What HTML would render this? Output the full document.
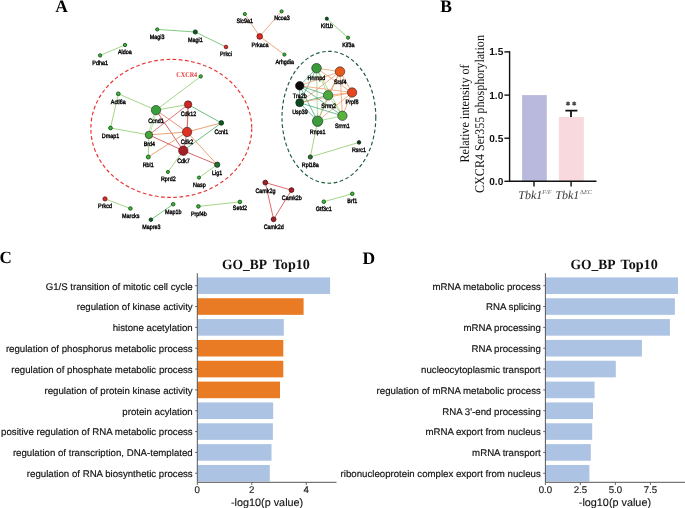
<!DOCTYPE html>
<html><head><meta charset="utf-8"><style>
html,body{margin:0;padding:0;background:#fff;width:685px;height:508px;overflow:hidden}
svg{display:block;will-change:transform}
text{text-rendering:geometricPrecision}
</style></head><body>
<svg width="685" height="508" viewBox="0 0 685 508">
<rect width="685" height="508" fill="#fff"/>
<g font-family="Liberation Serif" font-weight="bold" font-size="17.5" fill="#000">
<text x="55.3" y="11.8">A</text>
<text x="440.2" y="11.7">B</text>
<text x="-0.4" y="263.4" font-size="17">C</text>
<text x="362.4" y="263.7">D</text>
</g>
<ellipse cx="171.3" cy="128.4" rx="80.45" ry="69" fill="none" stroke="#e8302e" stroke-width="1.15" stroke-dasharray="3.7 2.5"/>
<ellipse cx="328.9" cy="117.25" rx="46.9" ry="65.95" fill="none" stroke="#1e5a3a" stroke-width="1.15" stroke-dasharray="3.7 2.5"/>
<line x1="100.1" y1="55.4" x2="125" y2="45" stroke="#92cf72" stroke-width="0.85"/>
<line x1="157.2" y1="29.4" x2="195.3" y2="32" stroke="#6cbf6c" stroke-width="0.85"/>
<line x1="195.3" y1="32" x2="226" y2="47" stroke="#6cbf6c" stroke-width="0.85"/>
<line x1="244.8" y1="14" x2="259.7" y2="36.4" stroke="#e99a70" stroke-width="0.85"/>
<line x1="281.6" y1="11.4" x2="259.7" y2="36.4" stroke="#e99a70" stroke-width="0.85"/>
<line x1="259.7" y1="36.4" x2="284.4" y2="54.6" stroke="#e99a70" stroke-width="0.85"/>
<line x1="326.8" y1="18.7" x2="348.1" y2="37.7" stroke="#7cc86c" stroke-width="0.85"/>
<line x1="200.7" y1="76.4" x2="156" y2="110.1" stroke="#92cf72" stroke-width="0.85"/>
<line x1="118.3" y1="93.8" x2="156" y2="110.1" stroke="#92cf72" stroke-width="0.85"/>
<line x1="118.3" y1="93.8" x2="110.5" y2="128" stroke="#92cf72" stroke-width="0.85"/>
<line x1="110.5" y1="128" x2="148.9" y2="134.9" stroke="#92cf72" stroke-width="0.85"/>
<line x1="156" y1="110.1" x2="188.1" y2="104.5" stroke="#92cf72" stroke-width="0.85"/>
<line x1="155.28" y1="109.89" x2="148.18" y2="134.69" stroke="#92cf72" stroke-width="0.6"/>
<line x1="156.72" y1="110.31" x2="149.62" y2="135.11" stroke="#92cf72" stroke-width="0.6"/>
<line x1="156" y1="110.1" x2="187.1" y2="132" stroke="#e8806a" stroke-width="0.85"/>
<line x1="156" y1="110.1" x2="183.3" y2="150.7" stroke="#cc4a4a" stroke-width="0.85"/>
<line x1="188.1" y1="104.5" x2="221.3" y2="122.9" stroke="#50b070" stroke-width="0.85"/>
<line x1="188.1" y1="104.5" x2="187.1" y2="132" stroke="#dc6a5e" stroke-width="1.15"/>
<line x1="188.1" y1="104.5" x2="148.9" y2="134.9" stroke="#d86060" stroke-width="0.85"/>
<line x1="187.1" y1="132" x2="221.3" y2="122.9" stroke="#e99259" stroke-width="0.85"/>
<line x1="187.1" y1="132" x2="148.9" y2="134.9" stroke="#e99259" stroke-width="0.85"/>
<line x1="187.1" y1="132" x2="217.2" y2="164.7" stroke="#e99259" stroke-width="0.85"/>
<line x1="187.1" y1="132" x2="183.3" y2="150.7" stroke="#d05050" stroke-width="0.85"/>
<line x1="187.1" y1="132" x2="148.3" y2="157" stroke="#e99259" stroke-width="0.85"/>
<line x1="183.3" y1="150.7" x2="221.3" y2="122.9" stroke="#50b070" stroke-width="0.85"/>
<line x1="183.3" y1="150.7" x2="148.9" y2="134.9" stroke="#cc4a4a" stroke-width="0.85"/>
<line x1="183.3" y1="150.7" x2="217.2" y2="164.7" stroke="#cc4a4a" stroke-width="0.85"/>
<line x1="183.3" y1="150.7" x2="167.9" y2="171.9" stroke="#92cf72" stroke-width="0.85"/>
<line x1="217.2" y1="164.7" x2="199" y2="177.6" stroke="#92cf72" stroke-width="0.85"/>
<line x1="148.9" y1="134.9" x2="148.3" y2="157" stroke="#92cf72" stroke-width="0.85"/>
<line x1="105" y1="198.9" x2="130.4" y2="208.5" stroke="#92cf72" stroke-width="0.85"/>
<line x1="173.2" y1="204.2" x2="150.9" y2="219.7" stroke="#5cb85c" stroke-width="0.85"/>
<line x1="198.4" y1="206.4" x2="239.9" y2="201.9" stroke="#92cf72" stroke-width="0.85"/>
<line x1="265.3" y1="182.6" x2="291.5" y2="190.1" stroke="#d85050" stroke-width="0.85"/>
<line x1="265.3" y1="182.6" x2="273.6" y2="219.3" stroke="#d85050" stroke-width="0.85"/>
<line x1="291.5" y1="190.1" x2="273.6" y2="219.3" stroke="#d85050" stroke-width="0.85"/>
<line x1="323.8" y1="201.7" x2="352.3" y2="193.8" stroke="#92cf72" stroke-width="0.85"/>
<line x1="317.6" y1="121.2" x2="310.3" y2="157" stroke="#92cf72" stroke-width="0.85"/>
<line x1="310.3" y1="157" x2="359" y2="142.4" stroke="#92cf72" stroke-width="0.85"/>
<line x1="316.5" y1="68.2" x2="340" y2="71.6" stroke="#e99259" stroke-width="0.7"/>
<line x1="316.5" y1="68.2" x2="299.7" y2="85.8" stroke="#3aa070" stroke-width="0.7"/>
<line x1="316.5" y1="68.2" x2="328.1" y2="95.3" stroke="#92cf72" stroke-width="0.7"/>
<line x1="316.5" y1="68.2" x2="352.1" y2="92.5" stroke="#e99259" stroke-width="0.7"/>
<line x1="316.5" y1="68.2" x2="299.7" y2="102.7" stroke="#3aa070" stroke-width="0.7"/>
<line x1="316.5" y1="68.2" x2="342.4" y2="115.8" stroke="#92cf72" stroke-width="0.7"/>
<line x1="316.5" y1="68.2" x2="317.6" y2="121.2" stroke="#92cf72" stroke-width="0.7"/>
<line x1="340" y1="71.6" x2="299.7" y2="85.8" stroke="#e99259" stroke-width="0.7"/>
<line x1="340" y1="71.6" x2="328.1" y2="95.3" stroke="#e99259" stroke-width="0.7"/>
<line x1="340" y1="71.6" x2="352.1" y2="92.5" stroke="#e99259" stroke-width="0.7"/>
<line x1="340" y1="71.6" x2="299.7" y2="102.7" stroke="#e99259" stroke-width="0.7"/>
<line x1="340" y1="71.6" x2="342.4" y2="115.8" stroke="#e99259" stroke-width="0.7"/>
<line x1="340" y1="71.6" x2="317.6" y2="121.2" stroke="#e99259" stroke-width="0.7"/>
<line x1="299.7" y1="85.8" x2="328.1" y2="95.3" stroke="#3aa070" stroke-width="0.7"/>
<line x1="299.7" y1="85.8" x2="352.1" y2="92.5" stroke="#e99259" stroke-width="0.7"/>
<line x1="299.7" y1="85.8" x2="299.7" y2="102.7" stroke="#3aa070" stroke-width="0.7"/>
<line x1="299.7" y1="85.8" x2="342.4" y2="115.8" stroke="#3aa070" stroke-width="0.7"/>
<line x1="299.7" y1="85.8" x2="317.6" y2="121.2" stroke="#3aa070" stroke-width="0.7"/>
<line x1="328.1" y1="95.3" x2="352.1" y2="92.5" stroke="#e99259" stroke-width="0.7"/>
<line x1="328.1" y1="95.3" x2="299.7" y2="102.7" stroke="#3aa070" stroke-width="0.7"/>
<line x1="328.1" y1="95.3" x2="342.4" y2="115.8" stroke="#92cf72" stroke-width="0.7"/>
<line x1="328.1" y1="95.3" x2="317.6" y2="121.2" stroke="#92cf72" stroke-width="0.7"/>
<line x1="352.1" y1="92.5" x2="299.7" y2="102.7" stroke="#e99259" stroke-width="0.7"/>
<line x1="352.1" y1="92.5" x2="342.4" y2="115.8" stroke="#e99259" stroke-width="0.7"/>
<line x1="352.1" y1="92.5" x2="317.6" y2="121.2" stroke="#e99259" stroke-width="0.7"/>
<line x1="299.7" y1="102.7" x2="342.4" y2="115.8" stroke="#3aa070" stroke-width="0.7"/>
<line x1="299.7" y1="102.7" x2="317.6" y2="121.2" stroke="#3aa070" stroke-width="0.7"/>
<line x1="342.4" y1="115.8" x2="317.6" y2="121.2" stroke="#92cf72" stroke-width="0.7"/>
<circle cx="100.1" cy="55.4" r="1.70" fill="#3cb43c" stroke="#0a4a0a" stroke-width="0.8"/>
<circle cx="125" cy="45" r="1.70" fill="#3cb43c" stroke="#0a4a0a" stroke-width="0.8"/>
<circle cx="157.2" cy="29.4" r="1.60" fill="#3cb43c" stroke="#0a4a0a" stroke-width="0.8"/>
<circle cx="195.3" cy="32" r="2.10" fill="#0b5a22" stroke="#022a0c" stroke-width="0.8"/>
<circle cx="226" cy="47" r="1.80" fill="#de2c24" stroke="#6a1010" stroke-width="0.8"/>
<circle cx="244.8" cy="14" r="1.60" fill="#3cb43c" stroke="#0a4a0a" stroke-width="0.8"/>
<circle cx="281.6" cy="11.4" r="1.60" fill="#3cb43c" stroke="#0a4a0a" stroke-width="0.8"/>
<circle cx="259.7" cy="36.4" r="2.80" fill="#de2c24" stroke="#6a1010" stroke-width="0.8"/>
<circle cx="284.4" cy="54.6" r="1.60" fill="#3cb43c" stroke="#0a4a0a" stroke-width="0.8"/>
<circle cx="326.8" cy="18.7" r="1.60" fill="#0b5a22" stroke="#022a0c" stroke-width="0.8"/>
<circle cx="348.1" cy="37.7" r="1.60" fill="#3cb43c" stroke="#0a4a0a" stroke-width="0.8"/>
<circle cx="200.7" cy="76.4" r="1.70" fill="#3cb43c" stroke="#0a4a0a" stroke-width="0.8"/>
<circle cx="118.3" cy="93.8" r="1.90" fill="#3cb43c" stroke="#0a4a0a" stroke-width="0.8"/>
<circle cx="156" cy="110.1" r="4.70" fill="#38a038" stroke="#222" stroke-width="0.6"/>
<circle cx="188.1" cy="104.5" r="3.70" fill="#d42424" stroke="#222" stroke-width="0.6"/>
<circle cx="221.3" cy="122.9" r="2.30" fill="#0b5a22" stroke="#022a0c" stroke-width="0.8"/>
<circle cx="110.5" cy="128" r="1.90" fill="#3cb43c" stroke="#0a4a0a" stroke-width="0.8"/>
<circle cx="148.9" cy="134.9" r="3.70" fill="#45a63a" stroke="#222" stroke-width="0.6"/>
<circle cx="187.1" cy="132" r="4.70" fill="#e03222" stroke="#222" stroke-width="0.6"/>
<circle cx="183.3" cy="150.7" r="4.70" fill="#a41e26" stroke="#4a080c" stroke-width="0.6"/>
<circle cx="148.3" cy="157" r="2.00" fill="#3cb43c" stroke="#0a4a0a" stroke-width="0.8"/>
<circle cx="217.2" cy="164.7" r="2.60" fill="#1a7a2a" stroke="#222" stroke-width="0.8"/>
<circle cx="167.9" cy="171.9" r="1.60" fill="#3cb43c" stroke="#0a4a0a" stroke-width="0.8"/>
<circle cx="199" cy="177.6" r="1.60" fill="#3cb43c" stroke="#0a4a0a" stroke-width="0.8"/>
<circle cx="105" cy="198.9" r="2.10" fill="#de2c24" stroke="#6a1010" stroke-width="0.8"/>
<circle cx="130.4" cy="208.5" r="1.80" fill="#3cb43c" stroke="#0a4a0a" stroke-width="0.8"/>
<circle cx="173.2" cy="204.2" r="1.80" fill="#3cb43c" stroke="#0a4a0a" stroke-width="0.8"/>
<circle cx="150.9" cy="219.7" r="1.80" fill="#0b5a22" stroke="#022a0c" stroke-width="0.8"/>
<circle cx="198.4" cy="206.4" r="1.80" fill="#3cb43c" stroke="#0a4a0a" stroke-width="0.8"/>
<circle cx="239.9" cy="201.9" r="1.80" fill="#3cb43c" stroke="#0a4a0a" stroke-width="0.8"/>
<circle cx="265.3" cy="182.6" r="2.40" fill="#a41e26" stroke="#4a080c" stroke-width="0.8"/>
<circle cx="291.5" cy="190.1" r="2.40" fill="#a41e26" stroke="#4a080c" stroke-width="0.8"/>
<circle cx="273.6" cy="219.3" r="2.40" fill="#a41e26" stroke="#4a080c" stroke-width="0.8"/>
<circle cx="323.8" cy="201.7" r="1.80" fill="#3cb43c" stroke="#0a4a0a" stroke-width="0.8"/>
<circle cx="352.3" cy="193.8" r="1.80" fill="#3cb43c" stroke="#0a4a0a" stroke-width="0.8"/>
<circle cx="316.5" cy="68.2" r="4.80" fill="#37993a" stroke="#222" stroke-width="0.6"/>
<circle cx="340" cy="71.6" r="4.80" fill="#e85a1c" stroke="#222" stroke-width="0.6"/>
<circle cx="299.7" cy="85.8" r="4.20" fill="#0a0a0a" stroke="#000" stroke-width="0.6"/>
<circle cx="328.1" cy="95.3" r="4.70" fill="#4aaa3c" stroke="#222" stroke-width="0.6"/>
<circle cx="352.1" cy="92.5" r="4.70" fill="#e64620" stroke="#222" stroke-width="0.6"/>
<circle cx="299.7" cy="102.7" r="4.00" fill="#0c4a1e" stroke="#222" stroke-width="0.6"/>
<circle cx="342.4" cy="115.8" r="4.70" fill="#58b43c" stroke="#222" stroke-width="0.6"/>
<circle cx="317.6" cy="121.2" r="5.20" fill="#3a9c3a" stroke="#222" stroke-width="0.6"/>
<circle cx="359" cy="142.4" r="1.80" fill="#0a3a18" stroke="#222" stroke-width="0.8"/>
<circle cx="310.3" cy="157" r="2.10" fill="#1a7a2a" stroke="#222" stroke-width="0.8"/>
<g font-family="Liberation Sans" font-size="5.4" fill="#000" text-anchor="middle" stroke="#000" stroke-width="0.32">
<text transform="translate(100.1,64.55) scale(1,1.18)">Pdha1</text>
<text transform="translate(124.8,54.15) scale(1,1.18)">Aldoa</text>
<text transform="translate(157.2,38.75) scale(1,1.18)">Magi3</text>
<text transform="translate(195.4,42.25) scale(1,1.18)">Magi1</text>
<text transform="translate(226,56.25) scale(1,1.18)">Prkci</text>
<text transform="translate(244.8,23.35) scale(1,1.18)">Slc9a1</text>
<text transform="translate(282,20.35) scale(1,1.18)">Ncoa3</text>
<text transform="translate(260,46.65) scale(1,1.18)">Prkaca</text>
<text transform="translate(284.7,63.75) scale(1,1.18)">Arhgdia</text>
<text transform="translate(326.8,27.85) scale(1,1.18)">Kif1b</text>
<text transform="translate(348.3,46.65) scale(1,1.18)">Kif3a</text>
<text transform="translate(118.3,103.65) scale(1,1.18)">Actl6a</text>
<text transform="translate(156,122.85) scale(1,1.18)">Ccnd1</text>
<text transform="translate(188.5,115.65) scale(1,1.18)">Cdk12</text>
<text transform="translate(221.3,133.65) scale(1,1.18)">Ccnl1</text>
<text transform="translate(110.5,137.65) scale(1,1.18)">Dmap1</text>
<text transform="translate(149.4,146.45) scale(1,1.18)">Brd4</text>
<text transform="translate(187,144.35) scale(1,1.18)">Cdk2</text>
<text transform="translate(183.5,163.05) scale(1,1.18)">Cdk7</text>
<text transform="translate(148.2,166.75) scale(1,1.18)">Rbl1</text>
<text transform="translate(217.1,175.15) scale(1,1.18)">Lig1</text>
<text transform="translate(168.3,181.45) scale(1,1.18)">Rprd2</text>
<text transform="translate(199.4,186.95) scale(1,1.18)">Nasp</text>
<text transform="translate(105,208.25) scale(1,1.18)">Prkcd</text>
<text transform="translate(130.8,217.95) scale(1,1.18)">Marcks</text>
<text transform="translate(173.2,213.65) scale(1,1.18)">Map1b</text>
<text transform="translate(151.3,228.85) scale(1,1.18)">Mapre3</text>
<text transform="translate(198.9,215.75) scale(1,1.18)">Prpf4b</text>
<text transform="translate(239.9,210.45) scale(1,1.18)">Setd2</text>
<text transform="translate(265.5,192.65) scale(1,1.18)">Camk2g</text>
<text transform="translate(291.8,199.75) scale(1,1.18)">Camk2b</text>
<text transform="translate(273.7,228.85) scale(1,1.18)">Camk2d</text>
<text transform="translate(323.8,210.65) scale(1,1.18)">Gtf3c1</text>
<text transform="translate(352.3,202.75) scale(1,1.18)">Brf1</text>
<text transform="translate(316.4,79.95) scale(1,1.18)">Hnrnpd</text>
<text transform="translate(340.2,83.95) scale(1,1.18)">Srsf4</text>
<text transform="translate(299.8,97.85) scale(1,1.18)">Tra2b</text>
<text transform="translate(328.7,107.65) scale(1,1.18)">Srrm2</text>
<text transform="translate(352,104.45) scale(1,1.18)">Prpf8</text>
<text transform="translate(300,114.45) scale(1,1.18)">Usp39</text>
<text transform="translate(342.3,128.25) scale(1,1.18)">Srrm1</text>
<text transform="translate(317.6,134.35) scale(1,1.18)">Rnps1</text>
<text transform="translate(359,151.75) scale(1,1.18)">Rsrc1</text>
<text transform="translate(310.3,167.15) scale(1,1.18)">Rpl18a</text>
</g>
<text transform="translate(197.2,77) scale(1,1.18)" font-family="Liberation Serif" font-weight="bold" font-size="6.2" fill="#e23c3c" text-anchor="end">CXCR4</text>
<g font-family="Liberation Serif" font-size="12.1" fill="#111">
<text transform="translate(468.8,113.5) rotate(-90) scale(1,1.1)" text-anchor="middle">Relative intensity of</text>
<text transform="translate(484.2,114) rotate(-90) scale(1,1.1)" text-anchor="middle">CXCR4 Ser355 phosphorylation</text>
</g>
<rect x="522.1" y="95.1" width="24.7" height="86.2" fill="#b9b9dd"/>
<rect x="558.9" y="117" width="24.9" height="64.3" fill="#f8d9dd"/>
<g stroke="#111" stroke-width="1.4" fill="none">
<path d="M509.6 51.2 V182 M509 181.3 H596.5"/>
<path d="M504.4 51.9 H510"/>
<path d="M504.4 95.1 H510"/>
<path d="M504.4 138.2 H510"/>
<path d="M504.4 181.3 H510"/>
<path d="M534 181.3 V186.5 M571.1 181.3 V186.5"/>
<path d="M571 117 V110.7 M565.4 110.7 H577.4" stroke-width="1.8"/>
</g>
<g font-family="Liberation Sans" font-weight="bold" font-size="10.1" fill="#111" text-anchor="end">
<text x="503.3" y="55.35">1.5</text>
<text x="503.3" y="98.55">1.0</text>
<text x="503.3" y="141.65">0.5</text>
<text x="503.3" y="184.75">0.0</text>
</g>
<path d="M568.0 101.55 V105.85000000000001 M566.13 102.62 L569.87 104.78 M566.13 104.78 L569.87 102.62" stroke="#4a4a4a" stroke-width="1.2" fill="none"/>
<path d="M574.2 101.55 V105.85000000000001 M572.33 102.62 L576.07 104.78 M572.33 104.78 L576.07 102.62" stroke="#4a4a4a" stroke-width="1.2" fill="none"/>
<g font-family="Liberation Serif" font-style="italic" fill="#383838">
<text x="518.3" y="199" font-size="12">Tbk1<tspan font-size="6.2" dy="-5.5" fill="#5a5a5a">F/F</tspan></text>
<text x="555.3" y="199" font-size="12">Tbk1<tspan font-size="6.2" dy="-5.5" dx="0.6" font-style="normal" fill="#5a5a5a">Δ</tspan><tspan font-size="6.2" fill="#5a5a5a">EC</tspan></text>
</g>
<rect x="197.3" y="277.40" width="132.80" height="16.6" fill="#adc3e3"/>
<path d="M195.10000000000002 285.70 H197.3" stroke="#444" stroke-width="0.8"/>
<text x="192.70000000000002" y="289.60" font-family="Liberation Sans" font-size="9.67" fill="#111" stroke="#111" stroke-width="0.16" text-anchor="end">G1/S transition of mitotic cell cycle</text>
<rect x="197.3" y="298.24" width="106.30" height="16.6" fill="#e87b23"/>
<path d="M195.10000000000002 306.54 H197.3" stroke="#444" stroke-width="0.8"/>
<text x="192.70000000000002" y="310.44" font-family="Liberation Sans" font-size="9.67" fill="#111" stroke="#111" stroke-width="0.16" text-anchor="end">regulation of kinase activity</text>
<rect x="197.3" y="319.08" width="86.50" height="16.6" fill="#adc3e3"/>
<path d="M195.10000000000002 327.38 H197.3" stroke="#444" stroke-width="0.8"/>
<text x="192.70000000000002" y="331.28" font-family="Liberation Sans" font-size="9.67" fill="#111" stroke="#111" stroke-width="0.16" text-anchor="end">histone acetylation</text>
<rect x="197.3" y="339.92" width="86.00" height="16.6" fill="#e87b23"/>
<path d="M195.10000000000002 348.22 H197.3" stroke="#444" stroke-width="0.8"/>
<text x="192.70000000000002" y="352.12" font-family="Liberation Sans" font-size="9.67" fill="#111" stroke="#111" stroke-width="0.16" text-anchor="end">regulation of phosphorus metabolic process</text>
<rect x="197.3" y="360.76" width="86.00" height="16.6" fill="#e87b23"/>
<path d="M195.10000000000002 369.06 H197.3" stroke="#444" stroke-width="0.8"/>
<text x="192.70000000000002" y="372.96" font-family="Liberation Sans" font-size="9.67" fill="#111" stroke="#111" stroke-width="0.16" text-anchor="end">regulation of phosphate metabolic process</text>
<rect x="197.3" y="381.60" width="82.70" height="16.6" fill="#e87b23"/>
<path d="M195.10000000000002 389.90 H197.3" stroke="#444" stroke-width="0.8"/>
<text x="192.70000000000002" y="393.80" font-family="Liberation Sans" font-size="9.67" fill="#111" stroke="#111" stroke-width="0.16" text-anchor="end">regulation of protein kinase activity</text>
<rect x="197.3" y="402.44" width="75.90" height="16.6" fill="#adc3e3"/>
<path d="M195.10000000000002 410.74 H197.3" stroke="#444" stroke-width="0.8"/>
<text x="192.70000000000002" y="414.64" font-family="Liberation Sans" font-size="9.67" fill="#111" stroke="#111" stroke-width="0.16" text-anchor="end">protein acylation</text>
<rect x="197.3" y="423.28" width="75.60" height="16.6" fill="#adc3e3"/>
<path d="M195.10000000000002 431.58 H197.3" stroke="#444" stroke-width="0.8"/>
<text x="192.70000000000002" y="435.48" font-family="Liberation Sans" font-size="9.67" fill="#111" stroke="#111" stroke-width="0.16" text-anchor="end">positive regulation of RNA metabolic process</text>
<rect x="197.3" y="444.12" width="74.20" height="16.6" fill="#adc3e3"/>
<path d="M195.10000000000002 452.42 H197.3" stroke="#444" stroke-width="0.8"/>
<text x="192.70000000000002" y="456.32" font-family="Liberation Sans" font-size="9.67" fill="#111" stroke="#111" stroke-width="0.16" text-anchor="end">regulation of transcription, DNA-templated</text>
<rect x="197.3" y="464.96" width="72.50" height="16.6" fill="#adc3e3"/>
<path d="M195.10000000000002 473.26 H197.3" stroke="#444" stroke-width="0.8"/>
<text x="192.70000000000002" y="477.16" font-family="Liberation Sans" font-size="9.67" fill="#111" stroke="#111" stroke-width="0.16" text-anchor="end">regulation of RNA biosynthetic process</text>
<path d="M197.3 273.2 V482.3 H336.5" stroke="#555" stroke-width="1" fill="none"/>
<path d="M197.30 482.3 V485" stroke="#444" stroke-width="0.8"/>
<text x="197.30" y="493.0" font-family="Liberation Sans" font-size="9.67" fill="#111" stroke="#111" stroke-width="0.12" text-anchor="middle">0</text>
<path d="M251.80 482.3 V485" stroke="#444" stroke-width="0.8"/>
<text x="251.80" y="493.0" font-family="Liberation Sans" font-size="9.67" fill="#111" stroke="#111" stroke-width="0.12" text-anchor="middle">2</text>
<path d="M306.30 482.3 V485" stroke="#444" stroke-width="0.8"/>
<text x="306.30" y="493.0" font-family="Liberation Sans" font-size="9.67" fill="#111" stroke="#111" stroke-width="0.12" text-anchor="middle">4</text>
<text x="267.1" y="505.8" font-family="Liberation Sans" font-size="10.83" fill="#111" stroke="#111" stroke-width="0.12" text-anchor="middle">-log10(p value)</text>
<g font-family="Liberation Serif" font-weight="bold" font-size="14.15" fill="#111"><text x="222.00" y="268.8" textLength="45" lengthAdjust="spacingAndGlyphs">GO_BP</text><text x="272.70" y="268.8">Top10</text></g>
<rect x="545.4" y="277.40" width="132.60" height="16.6" fill="#adc3e3"/>
<path d="M543.1999999999999 285.70 H545.4" stroke="#444" stroke-width="0.8"/>
<text x="540.8" y="289.60" font-family="Liberation Sans" font-size="9.67" fill="#111" stroke="#111" stroke-width="0.16" text-anchor="end">mRNA metabolic process</text>
<rect x="545.4" y="298.24" width="129.50" height="16.6" fill="#adc3e3"/>
<path d="M543.1999999999999 306.54 H545.4" stroke="#444" stroke-width="0.8"/>
<text x="540.8" y="310.44" font-family="Liberation Sans" font-size="9.67" fill="#111" stroke="#111" stroke-width="0.16" text-anchor="end">RNA splicing</text>
<rect x="545.4" y="319.08" width="124.50" height="16.6" fill="#adc3e3"/>
<path d="M543.1999999999999 327.38 H545.4" stroke="#444" stroke-width="0.8"/>
<text x="540.8" y="331.28" font-family="Liberation Sans" font-size="9.67" fill="#111" stroke="#111" stroke-width="0.16" text-anchor="end">mRNA processing</text>
<rect x="545.4" y="339.92" width="96.50" height="16.6" fill="#adc3e3"/>
<path d="M543.1999999999999 348.22 H545.4" stroke="#444" stroke-width="0.8"/>
<text x="540.8" y="352.12" font-family="Liberation Sans" font-size="9.67" fill="#111" stroke="#111" stroke-width="0.16" text-anchor="end">RNA processing</text>
<rect x="545.4" y="360.76" width="70.40" height="16.6" fill="#adc3e3"/>
<path d="M543.1999999999999 369.06 H545.4" stroke="#444" stroke-width="0.8"/>
<text x="540.8" y="372.96" font-family="Liberation Sans" font-size="9.67" fill="#111" stroke="#111" stroke-width="0.16" text-anchor="end">nucleocytoplasmic transport</text>
<rect x="545.4" y="381.60" width="49.20" height="16.6" fill="#adc3e3"/>
<path d="M543.1999999999999 389.90 H545.4" stroke="#444" stroke-width="0.8"/>
<text x="540.8" y="393.80" font-family="Liberation Sans" font-size="9.67" fill="#111" stroke="#111" stroke-width="0.16" text-anchor="end">regulation of mRNA metabolic process</text>
<rect x="545.4" y="402.44" width="47.60" height="16.6" fill="#adc3e3"/>
<path d="M543.1999999999999 410.74 H545.4" stroke="#444" stroke-width="0.8"/>
<text x="540.8" y="414.64" font-family="Liberation Sans" font-size="9.67" fill="#111" stroke="#111" stroke-width="0.16" text-anchor="end">RNA 3'-end processing</text>
<rect x="545.4" y="423.28" width="46.80" height="16.6" fill="#adc3e3"/>
<path d="M543.1999999999999 431.58 H545.4" stroke="#444" stroke-width="0.8"/>
<text x="540.8" y="435.48" font-family="Liberation Sans" font-size="9.67" fill="#111" stroke="#111" stroke-width="0.16" text-anchor="end">mRNA export from nucleus</text>
<rect x="545.4" y="444.12" width="45.40" height="16.6" fill="#adc3e3"/>
<path d="M543.1999999999999 452.42 H545.4" stroke="#444" stroke-width="0.8"/>
<text x="540.8" y="456.32" font-family="Liberation Sans" font-size="9.67" fill="#111" stroke="#111" stroke-width="0.16" text-anchor="end">mRNA transport</text>
<rect x="545.4" y="464.96" width="44.00" height="16.6" fill="#adc3e3"/>
<path d="M543.1999999999999 473.26 H545.4" stroke="#444" stroke-width="0.8"/>
<text x="540.8" y="477.16" font-family="Liberation Sans" font-size="9.67" fill="#111" stroke="#111" stroke-width="0.16" text-anchor="end">ribonucleoprotein complex export from nucleus</text>
<path d="M545.4 273.2 V482.3 H685" stroke="#555" stroke-width="1" fill="none"/>
<path d="M545.40 482.3 V485" stroke="#444" stroke-width="0.8"/>
<text x="545.40" y="493.0" font-family="Liberation Sans" font-size="9.67" fill="#111" stroke="#111" stroke-width="0.12" text-anchor="middle">0.0</text>
<path d="M580.40 482.3 V485" stroke="#444" stroke-width="0.8"/>
<text x="580.40" y="493.0" font-family="Liberation Sans" font-size="9.67" fill="#111" stroke="#111" stroke-width="0.12" text-anchor="middle">2.5</text>
<path d="M615.40 482.3 V485" stroke="#444" stroke-width="0.8"/>
<text x="615.40" y="493.0" font-family="Liberation Sans" font-size="9.67" fill="#111" stroke="#111" stroke-width="0.12" text-anchor="middle">5.0</text>
<path d="M650.40 482.3 V485" stroke="#444" stroke-width="0.8"/>
<text x="650.40" y="493.0" font-family="Liberation Sans" font-size="9.67" fill="#111" stroke="#111" stroke-width="0.12" text-anchor="middle">7.5</text>
<text x="614.9" y="505.8" font-family="Liberation Sans" font-size="10.83" fill="#111" stroke="#111" stroke-width="0.12" text-anchor="middle">-log10(p value)</text>
<g font-family="Liberation Serif" font-weight="bold" font-size="14.15" fill="#111"><text x="570.50" y="268.8" textLength="45" lengthAdjust="spacingAndGlyphs">GO_BP</text><text x="620.50" y="268.8">Top10</text></g>
</svg>
</body></html>
